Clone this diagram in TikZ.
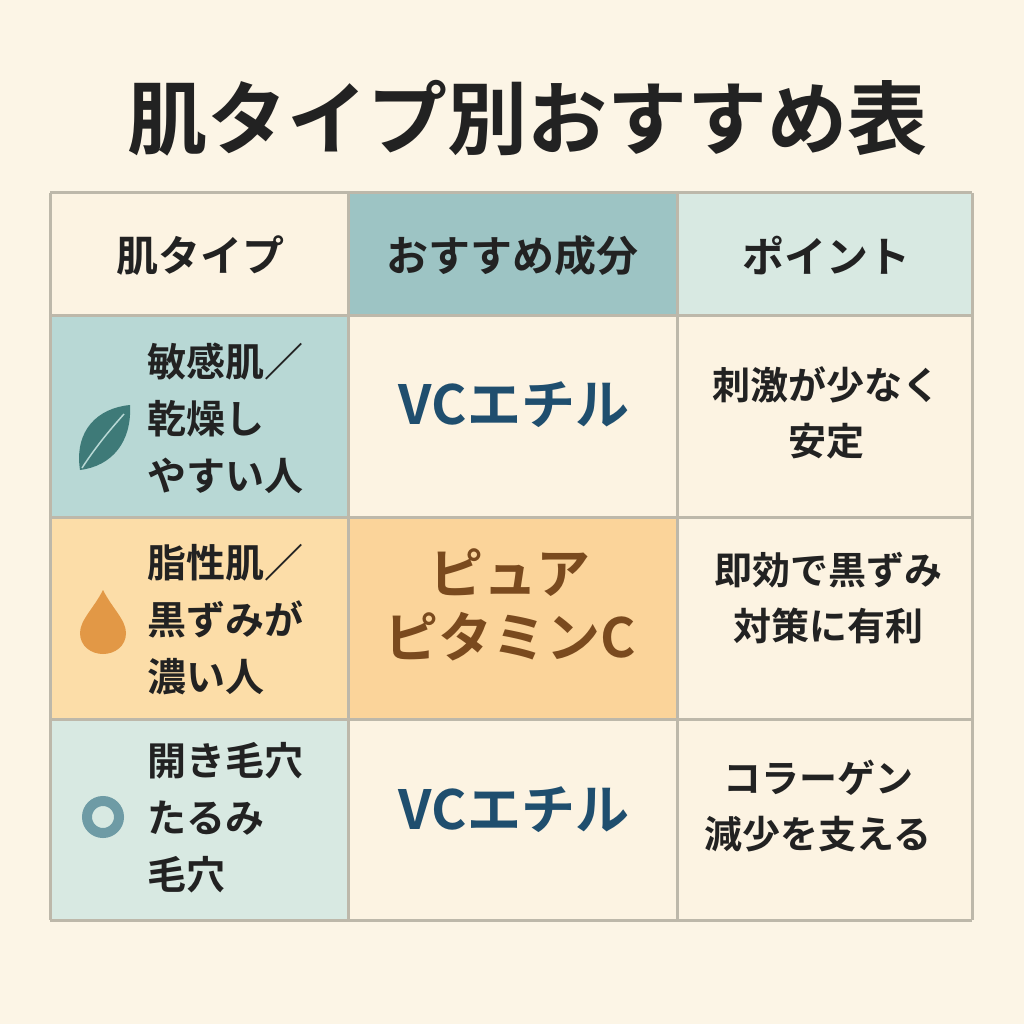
\documentclass[tikz,border=0pt]{standalone}
\usepackage{fontspec}
\newfontfamily\jp{Noto Sans CJK JP}[BoldFont={* Bold}]
\definecolor{bg}{HTML}{FCF5E6}
\definecolor{cream}{HTML}{FCF3E2}
\definecolor{teal}{HTML}{9DC4C4}
\definecolor{lteal}{HTML}{D8E9E2}
\definecolor{mteal}{HTML}{B8D8D5}
\definecolor{lorange}{HTML}{FCDDA8}
\definecolor{orange}{HTML}{FBD49A}
\definecolor{gridc}{HTML}{BDB8AA}
\definecolor{ink}{HTML}{222222}
\definecolor{blue}{HTML}{1F4E6E}
\definecolor{brown}{HTML}{7A4A1E}
\definecolor{leaf}{HTML}{3E7A78}
\definecolor{drop}{HTML}{E29846}
\definecolor{ring}{HTML}{6E9BA5}
\begin{document}
\begin{tikzpicture}[x=1pt,y=-1pt,
  txt/.style={font=\jp\bfseries\fontsize{38}{56}\selectfont,text=ink,align=center},
  lft/.style={font=\jp\bfseries\fontsize{39}{57}\selectfont,text=ink,align=left,anchor=west,inner sep=0pt},
  hdr/.style={font=\jp\bfseries\fontsize{42}{50}\selectfont,text=ink},
  big/.style={font=\jp\bfseries\fontsize{54}{64}\selectfont,align=center}]
\fill[bg] (0,0) rectangle (1024,1024);
\useasboundingbox (0,0) rectangle (1024,1024);
\node[font=\jp\bfseries\fontsize{80}{88}\selectfont,text=ink] (title) at (527,118) {肌タイプ別おすすめ表};
\fill[cream] (50,193) rectangle (348,315);
\fill[teal] (348,193) rectangle (677,315);
\fill[lteal] (677,193) rectangle (972,315);
\fill[mteal] (50,315) rectangle (348,517);
\fill[cream] (348,315) rectangle (972,517);
\fill[lorange] (50,517) rectangle (348,719);
\fill[orange] (348,517) rectangle (677,719);
\fill[cream] (677,517) rectangle (972,719);
\fill[lteal] (50,719) rectangle (348,920);
\fill[cream] (348,719) rectangle (972,920);
\foreach \x in {50,348,677,972} \draw[gridc,line width=3pt] (\x,193) -- (\x,920);
\foreach \y in {193,315,517,719,920} \draw[gridc,line width=3pt] (50,\y) -- (972,\y);
\node[hdr] (h1) at (200,256) {肌タイプ};
\node[hdr] (h2) at (512,256) {おすすめ成分};
\node[hdr] (h3) at (826,256) {ポイント};
\node[lft] (r1a) at (147,418) {敏感肌／\\乾燥し\\やすい人};
\node[big,text=blue] (r1b) at (514,405) {VCエチル};
\node[txt] (r1c) at (826,413) {刺激が少なく\\安定};
\node[lft] (r2a) at (147,620) {脂性肌／\\黒ずみが\\濃い人};
\node[big,text=brown] (r2b) at (510,605) {ピュア\\ピタミンC};
\node[txt] (r2c) at (828,598) {即効で黒ずみ\\対策に有利};
\node[lft] (r3a) at (147,818) {開き毛穴\\たるみ\\毛穴};
\node[big,text=blue] (r3b) at (514,810) {VCエチル};
\node[txt] (r3c) at (818,806) {コラーゲン\\減少を支える};
\fill[leaf] (80,470) .. controls (74,430) and (98,408) .. (130,405) .. controls (132,442) and (112,466) .. (80,470) -- cycle;
\draw[mteal,line width=1.5pt] (82,468) .. controls (95,448) and (108,432) .. (124,414);
\fill[drop] (103,590) .. controls (112,608) and (126,620) .. (126,633) .. controls (126,646) and (115,654) .. (103,654) .. controls (91,654) and (80,646) .. (80,633) .. controls (80,620) and (94,608) .. (103,590) -- cycle;
\draw[ring,line width=10pt] (103,817) circle (16);
\end{tikzpicture}
\end{document}
